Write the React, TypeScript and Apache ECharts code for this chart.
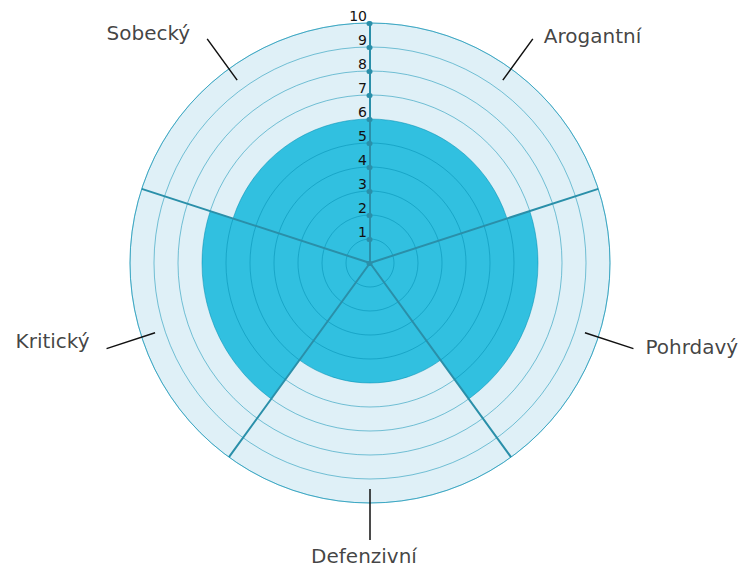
import React, { useEffect, useRef } from 'react';
import * as echarts from 'echarts';

const categories = ['Arogantní', 'Pohrdavý', 'Defenzivní', 'Kritický', 'Sobecký'];
const values = [6, 7, 5, 7, 6];
const scaleMax = 10;
const scaleStep = 1;

// label placement styles per category (same order as categories)
const labelPositions = ['right', 'right', 'bottom', 'left', 'left'];
const labelDistances = [11, 12, 6, 17, 17];
const labelOffsets = [[0, -3], [0, -2], [-6, 0], [0, -8], [0, -6]];

const FONT = "'DejaVu Sans', Verdana, sans-serif";

export default function App() {
  const ref = useRef<HTMLDivElement>(null);
  useEffect(() => {
    if (!ref.current) return;
    const chart = echarts.init(ref.current, null, { renderer: 'svg' });
    const CX = 370;
    const CY = 263;
    const R = 240;
    const RL = 277;
    const ringColor = 'rgba(0,140,175,0.5)';
    const option: any = {
      animation: false,
      polar: [
        { center: [CX, CY], radius: R },
        { center: [CX, CY], radius: RL },
      ],
      angleAxis: [
        {
          polarIndex: 0,
          type: 'category',
          data: categories,
          startAngle: 90,
          clockwise: true,
          z: 3,
          axisLine: { show: true, lineStyle: { color: ringColor, width: 1 } },
          axisTick: { show: false },
          axisLabel: { show: false },
          splitLine: { show: true, lineStyle: { color: '#2a8fa9', width: 2 } },
        },
        {
          polarIndex: 1,
          type: 'category',
          data: categories,
          startAngle: 90,
          clockwise: true,
          z: 5,
          axisLine: { show: false },
          axisLabel: { show: false },
          splitLine: { show: false },
          axisTick: {
            show: true,
            alignWithLabel: true,
            inside: true,
            length: 51,
            lineStyle: { color: '#111', width: 1.5 },
          },
        },
      ],
      radiusAxis: [
        {
          polarIndex: 0,
          type: 'value',
          min: 0,
          max: scaleMax,
          interval: scaleStep,
          z: 3,
          axisLine: { show: true, lineStyle: { color: '#2a8fa9', width: 2 } },
          axisTick: {
            show: true,
            length: 1,
            lineStyle: { color: '#2a8fa9', width: 5, cap: 'round' },
          },
          axisLabel: {
            show: true,
            color: '#111',
            fontSize: 14,
            fontFamily: FONT,
            align: 'right',
            verticalAlign: 'bottom',
            margin: 3,
            formatter: (v: number) => (v === 0 ? '' : String(v)),
          },
          splitLine: { show: true, lineStyle: { color: ringColor, width: 1 } },
        },
        { polarIndex: 1, type: 'value', min: 0, max: 1, show: false },
      ],
      series: [
        {
          type: 'bar',
          coordinateSystem: 'polar',
          polarIndex: 0,
          data: categories.map(() => scaleMax),
          barGap: '-100%',
          barCategoryGap: '0%',
          itemStyle: { color: '#dff0f7' },
          z: 1,
          silent: true,
        },
        {
          type: 'bar',
          coordinateSystem: 'polar',
          polarIndex: 0,
          data: values,
          barGap: '-100%',
          barCategoryGap: '0%',
          itemStyle: { color: '#31c0e0' },
          z: 2,
        },
        {
          type: 'scatter',
          coordinateSystem: 'polar',
          polarIndex: 1,
          symbolSize: 0,
          z: 6,
          label: {
            show: true,
            formatter: '{b}',
            color: '#111',
            fontSize: 20,
            fontFamily: FONT,
          },
          data: categories.map((c, i) => ({
            name: c,
            value: [1, i],
            label: {
              position: labelPositions[i],
              distance: labelDistances[i],
              offset: labelOffsets[i],
            },
          })),
        },
      ],
    };
    chart.setOption(option);
    return () => chart.dispose();
  }, []);
  return (
    <div
      ref={ref}
      style={{ position: 'absolute', left: 0, top: 0, width: 742, height: 571, background: '#fff' }}
    />
  );
}
